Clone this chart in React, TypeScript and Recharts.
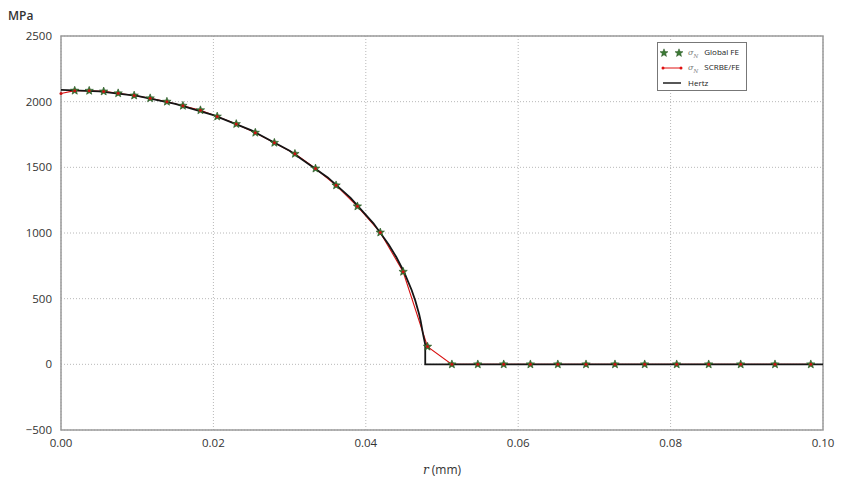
import { CartesianGrid, Line, LineChart, ReferenceArea, XAxis, YAxis } from 'recharts';

// radial position (mm) and contact pressure (MPa)
const feR = [
  0.0018, 0.0037, 0.0056, 0.0075, 0.0096, 0.0117, 0.0139, 0.016, 0.0183, 0.0205, 0.023, 0.0255,
  0.028, 0.0307, 0.0334, 0.0361, 0.0389, 0.0419, 0.0449, 0.0481, 0.0513, 0.0547, 0.0581, 0.0616,
  0.0652, 0.0689, 0.0727, 0.0766, 0.0808, 0.085, 0.0892, 0.0937, 0.0984,
];
const globalFe = [
  2084, 2083, 2078, 2064, 2047, 2026, 2000, 1969, 1935, 1887, 1830, 1764,
  1687, 1603, 1491, 1363, 1203, 1004, 705, 135, 0, 0, 0, 0,
  0, 0, 0, 0, 0, 0, 0, 0, 0,
];
const scrbeR = [0, ...feR];
const scrbeFe = [2062, ...globalFe];

const hertzR = [
  0, 0.005, 0.01, 0.015, 0.02, 0.025, 0.03, 0.035, 0.038, 0.041, 0.043, 0.044, 0.045, 0.046,
  0.0465, 0.047, 0.0472, 0.0475, 0.0478, 0.0478, 0.1,
];
const hertz = [
  2090, 2079, 2044, 1984, 1898, 1781, 1627, 1423, 1268, 1074, 913, 817, 705, 568,
  484, 381, 330, 234, 150, 0, 0,
];

const xTicks = [0, 0.02, 0.04, 0.06, 0.08, 0.1];
const yTicks = [-500, 0, 500, 1000, 1500, 2000, 2500];

const feData = feR.map((r, i) => ({ r, v: globalFe[i] }));
const scrbeData = scrbeR.map((r, i) => ({ r, v: scrbeFe[i] }));
const hertzData = hertzR.map((r, i) => ({ r, v: hertz[i] }));

const FONT = '"Open Sans", "DejaVu Sans", sans-serif';
const STAR_FILL = '#3b7a34';
const STAR_EDGE = '#24501f';

const starPoints = (cx: number, cy: number, outer: number, inner: number) => {
  const pts: string[] = [];
  for (let k = 0; k < 10; k++) {
    const rad = k % 2 === 0 ? outer : inner;
    const ang = -Math.PI / 2 + (k * Math.PI) / 5;
    pts.push(`${cx + rad * Math.cos(ang)},${cy + rad * Math.sin(ang)}`);
  }
  return pts.join(' ');
};

const StarDot = (props: any) => {
  const { cx, cy, index } = props;
  if (cx == null || cy == null) return <g key={`s-${index}`} />;
  return (
    <polygon
      key={`s-${index}`}
      points={starPoints(cx, cy, 4.4, 1.9)}
      fill={STAR_FILL}
      stroke={STAR_EDGE}
      strokeWidth={0.6}
    />
  );
};

const RedDot = (props: any) => {
  const { cx, cy, index } = props;
  if (cx == null || cy == null) return <g key={`r-${index}`} />;
  return <circle key={`r-${index}`} cx={cx} cy={cy} r={1.5} fill="#c81010" />;
};

const Sigma = () => (
  <span style={{ fontStyle: 'italic', color: '#777', fontFamily: 'DejaVu Serif, serif', fontSize: 8 }}>
    σ<sub style={{ fontSize: 5.5 }}>N</sub>
  </span>
);

const LegendBox = () => (
  <div
    style={{
      position: 'absolute',
      left: 649,
      top: 34,
      border: '1px solid #777',
      background: '#fff',
      width: 90,
      height: 49,
      fontFamily: FONT,
      fontSize: 8,
      color: '#222',
      boxSizing: 'border-box',
      padding: '2px 0 0 2px',
    }}
  >
    <div style={{ display: 'flex', alignItems: 'center', height: 15 }}>
      <svg width={24} height={12}>
        <polygon points={starPoints(4, 6, 4.2, 1.8)} fill={STAR_FILL} stroke={STAR_EDGE} strokeWidth={0.5} />
        <polygon points={starPoints(19, 6, 4.2, 1.8)} fill={STAR_FILL} stroke={STAR_EDGE} strokeWidth={0.5} />
      </svg>
      <span style={{ marginLeft: 4 }}>
        <Sigma />
        <span style={{ marginLeft: 6 }}>Global FE</span>
      </span>
    </div>
    <div style={{ display: 'flex', alignItems: 'center', height: 15 }}>
      <svg width={24} height={12}>
        <line x1={3} y1={6} x2={21} y2={6} stroke="#e01010" strokeWidth={1} />
        <circle cx={3} cy={6} r={1.5} fill="#e01010" />
        <circle cx={21} cy={6} r={1.5} fill="#e01010" />
      </svg>
      <span style={{ marginLeft: 4 }}>
        <Sigma />
        <span style={{ marginLeft: 6 }}>SCRBE/FE</span>
      </span>
    </div>
    <div style={{ display: 'flex', alignItems: 'center', height: 15 }}>
      <svg width={24} height={12}>
        <line x1={3} y1={6} x2={21} y2={6} stroke="#444" strokeWidth={1.8} />
      </svg>
      <span style={{ marginLeft: 4 }}>Hertz</span>
    </div>
  </div>
);

export default function App() {
  return (
    <div style={{ position: 'relative', width: 828, height: 468 }}>
      <LineChart width={828} height={468} margin={{ top: 28, right: 13, bottom: 16, left: 0 }}>
        <CartesianGrid stroke="#b8b8b8" strokeDasharray="1 2" />
        <XAxis
          dataKey="r"
          type="number"
          domain={[0, 0.1]}
          ticks={xTicks}
          tickFormatter={(v: number) => v.toFixed(2)}
          allowDuplicatedCategory={false}
          height={30}
          axisLine={false}
          tickLine={false}
          tickSize={0}
          tickMargin={9}
          tick={{ fill: '#333', fontSize: 11.5, fontFamily: FONT }}
        />
        <YAxis
          type="number"
          domain={[-500, 2500]}
          ticks={yTicks}
          tickFormatter={(v: number) => String(v).replace('-', '\u2212')}
          width={53}
          axisLine={false}
          tickLine={false}
          tickSize={0}
          tickMargin={9}
          tick={{ fill: '#333', fontSize: 11.5, fontFamily: FONT }}
        />
        <ReferenceArea x1={0} x2={0.1} y1={-500} y2={2500} fill="none" stroke="#9a9a9a" strokeWidth={1.5} />
        <Line
          data={feData}
          dataKey="v"
          stroke="none"
          dot={StarDot}
          activeDot={false}
          isAnimationActive={false}
          legendType="none"
        />
        <Line
          data={scrbeData}
          dataKey="v"
          type="linear"
          stroke="#d81010"
          strokeWidth={1.1}
          dot={RedDot}
          activeDot={false}
          isAnimationActive={false}
          legendType="none"
        />
        <Line
          data={hertzData}
          dataKey="v"
          type="linear"
          stroke="#151515"
          strokeWidth={1.8}
          dot={false}
          activeDot={false}
          isAnimationActive={false}
          legendType="none"
        />
      </LineChart>
      <LegendBox />
      <div
        style={{
          position: 'absolute',
          left: 0,
          top: -1,
          fontFamily: FONT,
          fontSize: 12,
          fontWeight: 600,
          color: '#333',
        }}
      >
        MPa
      </div>
      <div
        style={{
          position: 'absolute',
          left: 0,
          width: 868,
          top: 453,
          textAlign: 'center',
          fontFamily: FONT,
          fontSize: 12,
          color: '#333',
        }}
      >
        <span style={{ fontStyle: 'italic', fontFamily: 'DejaVu Serif, serif' }}>r</span> (mm)
      </div>
    </div>
  );
}
